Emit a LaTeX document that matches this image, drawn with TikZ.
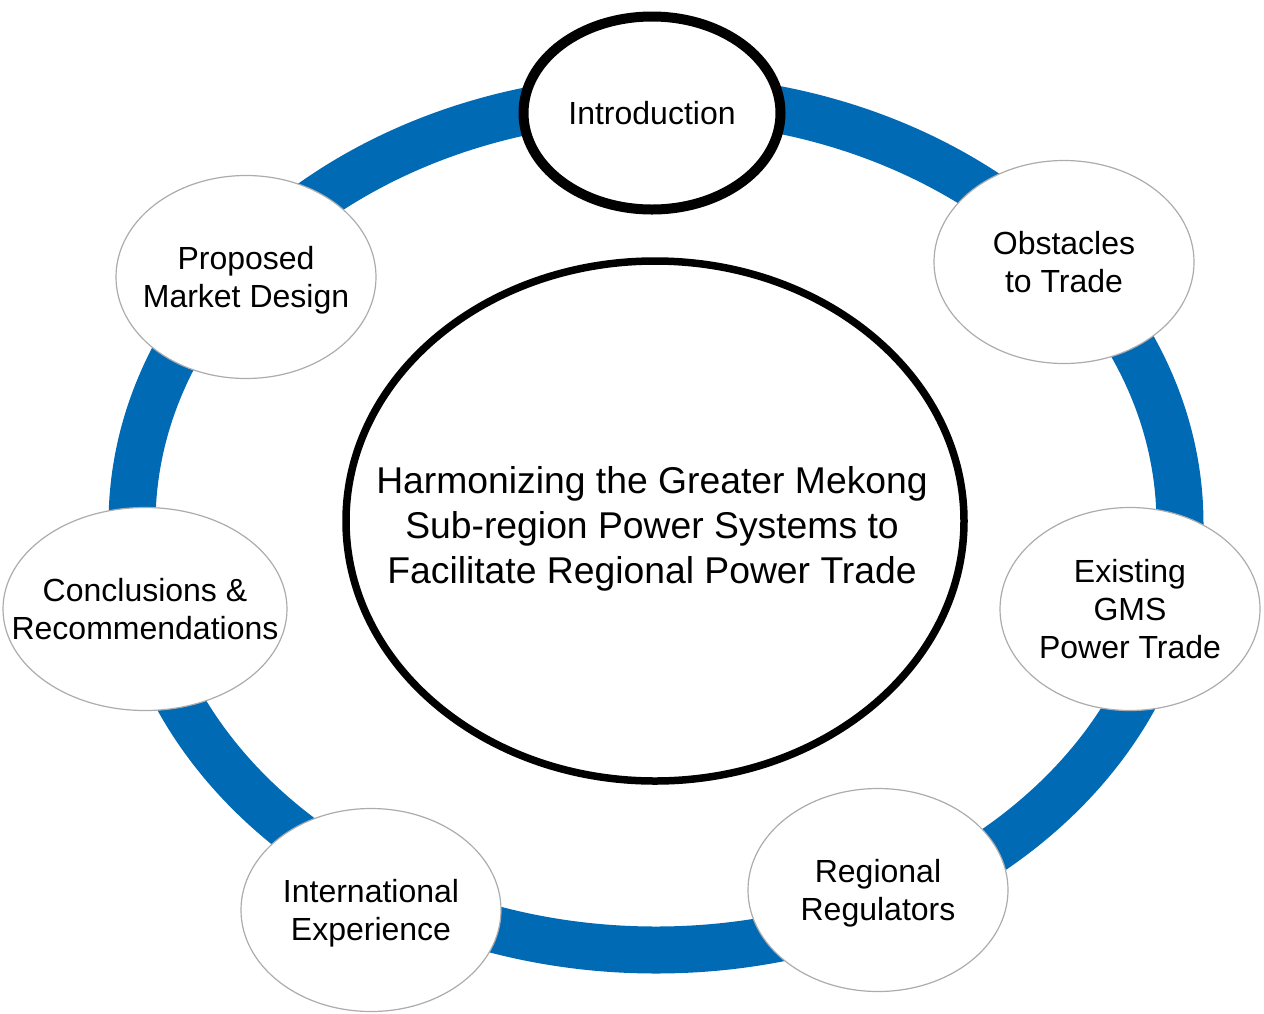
\documentclass[tikz,border=0pt]{standalone}
\usepackage{fontspec}
\setmainfont{Liberation Sans}
\usepackage{tikz}
\usetikzlibrary{shapes,positioning}
\definecolor{ringblue}{RGB}{0,106,181}

\begin{document}
\begin{tikzpicture}[
        x=1pt, y=-1pt,
        ring/.style={draw=ringblue, line width=47pt},
        topic/.style={ellipse, draw=gray!65, line width=1.2pt, fill=white, inner sep=0pt, minimum width=260pt, minimum height=203pt},
        caption/.style={align=center, inner sep=0pt, text depth=0pt, font=\fontsize{32}{38}\selectfont},
        theme/.style={ellipse, draw, line width=7.5pt, fill=white, inner sep=0pt, minimum width=618pt, minimum height=520pt}
    ]
        \useasboundingbox (0,0) rectangle (1264,1013);
        \draw[ring] (656,524) ellipse [x radius=524pt, y radius=426pt];

        \node[theme, label={[caption, xshift=-3pt, yshift=-4pt, font=\fontsize{37.3}{45}\selectfont]center:Harmonizing the Greater Mekong\\Sub-region Power Systems to\\Facilitate Regional Power Trade}] (core) at (655,521) {};

        \node[topic, draw=black, line width=10pt, minimum width=257pt, minimum height=193pt, label={[caption]center:Introduction}] (intro) at (652,113) {};
        \node[topic, label={[caption]center:Obstacles\\to Trade}] (obstacles) at (1064,262) {};
        \node[topic, label={[caption]center:Existing\\GMS\\Power Trade}] (existing) at (1130,609) {};
        \node[topic, label={[caption]center:Regional\\Regulators}] (regulators) at (878,890) {};
        \node[topic, label={[caption]center:International\\Experience}] (international) at (371,910) {};
        \node[topic, minimum width=284pt, label={[caption]center:Conclusions \&\\Recommendations}] (conclusions) at (145,609) {};
        \node[topic, label={[caption]center:Proposed\\Market Design}] (proposed) at (246,277) {};
    \end{tikzpicture}
\end{document}
